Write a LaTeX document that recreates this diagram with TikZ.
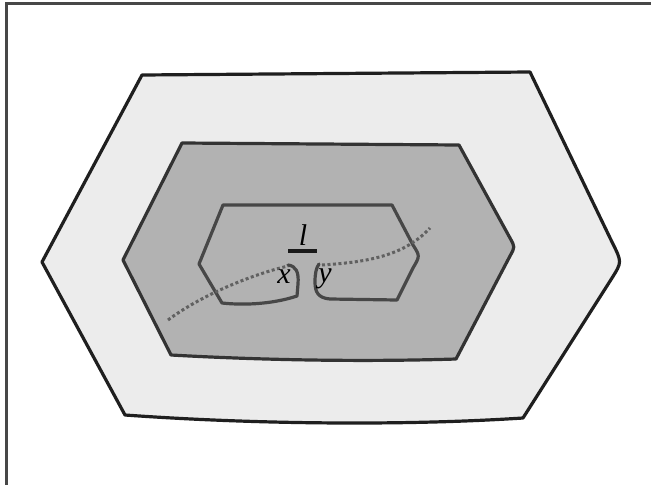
\documentclass[tikz,border=0pt]{standalone}
\usepackage{fontspec}
\setmainfont{Liberation Serif}
\begin{document}
\begin{tikzpicture}[x=1pt,y=-1pt,
  outerln/.style={draw=black!88,line width=3.2pt,line join=round},
  midln/.style={draw=black!80,line width=3.2pt,line join=round},
  innerln/.style={draw=black!72,line width=3.2pt,line join=round,line cap=round},
  dotln/.style={black!62,line width=3pt,dash pattern=on 3pt off 2.5pt},
  lbl/.style={font=\fontsize{30}{32}\selectfont\itshape,inner sep=0pt,anchor=base}]
\useasboundingbox (0,0) rectangle (651,485);
\fill[white] (0,0) rectangle (651,485);
% frame
\draw[black!72,line width=3pt] (651,3.5) -- (6.5,3.5) -- (6.5,485);
% outer region
\path[outerln,fill=black!7.5] (142,75) -- (530,72) -- (612,242) .. controls (622,262) .. (612,278)
  -- (523,418) .. controls (400,426) and (250,424) .. (125,415) -- (42,262) -- cycle;
% middle region
\path[midln,fill=black!30] (182,143) -- (459,145) -- (510,238) .. controls (515,247) .. (510,256)
  -- (456,359) .. controls (360,362) and (260,360) .. (171,355) -- (123,260) -- cycle;
% inner region (two halves)
\path[innerln] (288,265) .. controls (296,266) and (299,272) .. (298,284) -- (297,296)
  .. controls (270,305) and (240,305) .. (222,303) -- (199,264) -- (223,205) -- (392,205)
  -- (413,245) .. controls (420,256) .. (413,268) -- (397,300) -- (330,299)
  .. controls (318,298) and (315,292) .. (315,282) .. controls (315,274) and (316,268) .. (319,264);
% dotted curve
\draw[dotln] (168,320) .. controls (200,296) and (250,275) .. (288,266);
\draw[dotln] (322,265) .. controls (370,262) and (405,255) .. (430,228);
% labels
\node[lbl] (l) at (303,245) {l};
\coordinate (bl) at (288,251);
\coordinate (br) at (317,251);
\draw[black!90,line width=3.4pt] (bl) -- (br);
\node[lbl] (x) at (284,283) {x};
\node[lbl] (y) at (325,282) {y};
\end{tikzpicture}
\end{document}
